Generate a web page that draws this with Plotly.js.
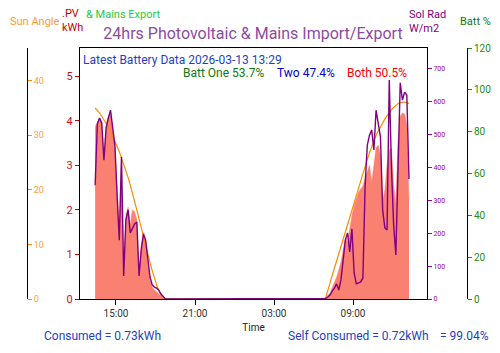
<!DOCTYPE html>
<html>
<head>
<meta charset="utf-8">
<script src="https://cdn.plot.ly/plotly-3.0.1.min.js"></script>
<style>html,body{margin:0;padding:0;background:#fff;}#chart{width:500px;height:353px;}</style>
</head>
<body>
<div id="chart"></div>
<script>
// Sampling: one reading every 10 minutes, starting at this time
const startTime = '2026-03-12T13:25:00';
const stepMinutes = 10;

// PV generation (kWh) – afternoon, night, morning
const pvKWh = [
  3.86,3.97,4.06,3.97,3.16,3.88,4.10,4.17,3.79,3.39,2.44,1.55,3.12,0.47,1.88,2.06,
  1.66,2.00,1.95,1.77,0.49,1.21,1.50,1.32,0.83,0.43,0.27,0.20,0.16,0.11,0.07,0.02,
  0,0,0,0,0,0,0,0,0,0,0,0,0,0,0,0,0,0,0,0,0,0,0,0,
  0,0,0,0,0,0,0,0,0,0,0,0,0,0,0,0,0,0,0,0,0,0,0,0,
  0,0,0,0,0,0,0,0,0,0,0,0,0,0,0,0,0,0,0,0,0,0,0,0,
  0,0.02,0.07,0.13,0.25,0.36,0.49,0.65,0.83,1.10,1.37,1.28,1.59,1.86,2.09,2.26,
  2.40,2.47,2.53,2.71,2.85,3.00,2.62,3.00,3.39,3.45,3.23,2.22,2.44,3.00,3.34,3.39,
  2.56,2.11,3.57,4.10,4.17,4.15,3.90,2.22
];

// Solar radiation (W/m2)
const solRad = [
  346,532,550,535,422,520,550,574,520,468,316,179,432,70,240,271,
  201,216,228,234,70,149,198,179,112,67,43,36,33,27,15,6,
  0,0,0,0,0,0,0,0,0,0,0,0,0,0,0,0,0,0,0,0,0,0,0,0,
  0,0,0,0,0,0,0,0,0,0,0,0,0,0,0,0,0,0,0,0,0,0,0,0,
  0,0,0,0,0,0,0,0,0,0,0,0,0,0,0,0,0,0,0,0,0,0,0,0,
  0,1.5,6,12,24,33,46,27,58,112,179,201,143,213,79,46,
  49,52,64,346,468,498,514,453,574,529,492,271,216,210,666,401,
  225,134,392,657,605,629,620,365
];

// Sun elevation angle (degrees)
const sunAngle = [
  35.0,34.6,34.1,33.5,32.9,32.2,31.5,30.7,29.9,29.0,28.0,27.0,25.9,24.8,23.6,22.3,
  20.9,19.5,17.9,16.3,14.7,13.0,11.4,9.8,8.2,6.7,5.2,3.8,2.6,1.5,0.6,0,
  0,0,0,0,0,0,0,0,0,0,0,0,0,0,0,0,0,0,0,0,0,0,0,0,
  0,0,0,0,0,0,0,0,0,0,0,0,0,0,0,0,0,0,0,0,0,0,0,0,
  0,0,0,0,0,0,0,0,0,0,0,0,0,0,0,0,0,0,0,0,0,0,0,0,
  0,0.2,1.4,2.9,4.3,5.6,7.0,8.2,9.4,10.7,12.0,13.4,14.8,16.2,17.6,19.0,
  20.4,21.8,23.1,24.4,25.6,26.8,28.0,29.0,30.0,30.8,31.6,32.3,33.0,33.6,34.2,34.7,
  35.1,35.5,35.8,36.0,36.1,36.1,36.0,35.8
];

// Text values
const chartTitle = '24hrs Photovoltaic & Mains Import/Export';
const latestText = 'Latest Battery Data 2026-03-13 13:29';
const battOne = 'Batt One 53.7%';
const battTwo = 'Two 47.4%';
const battBoth = 'Both 50.5%';
const consumedText = 'Consumed = 0.73kWh';
const selfConsumedText = 'Self Consumed = 0.72kWh';
const selfPctText = '= 99.04%';

function pad(n){return (n<10?'0':'')+n;}
const times = [];
{
  const t0 = new Date(startTime + 'Z').getTime();
  for (let i = 0; i < pvKWh.length; i++) {
    const d = new Date(t0 + i*stepMinutes*60000);
    times.push(d.getUTCFullYear()+'-'+pad(d.getUTCMonth()+1)+'-'+pad(d.getUTCDate())+' '+pad(d.getUTCHours())+':'+pad(d.getUTCMinutes()));
  }
}

const W = 500, H = 353;
const px = v => v / W;
const py = v => 1 - v / H;

const traces = [
  {x: times, y: pvKWh, type: 'scatter', mode: 'lines', yaxis: 'y',
   fill: 'tozeroy', fillcolor: '#fa8072', line: {color: '#fa8072', width: 0.5}, hoverinfo: 'skip'},
  {x: times, y: sunAngle, type: 'scatter', mode: 'lines', yaxis: 'y2',
   line: {color: '#ff8c00', width: 1.2}, hoverinfo: 'skip'},
  {x: times, y: solRad, type: 'scatter', mode: 'lines', yaxis: 'y3',
   line: {color: '#800080', width: 1.4}, hoverinfo: 'skip'},
  {x: [], y: [], type: 'scatter', mode: 'lines', yaxis: 'y4', hoverinfo: 'skip'}
];

const yDom = [(H-299)/H, (H-48)/H];

function ann(text, x, y, color, size, extra) {
  return Object.assign({text: text, x: px(x), y: py(y), xref: 'paper', yref: 'paper',
    xanchor: 'left', yanchor: 'middle', showarrow: false, align: 'left', borderpad: 0,
    font: {family: 'Roboto', size: size, color: color}}, extra || {});
}

const layout = {
  width: W, height: H,
  margin: {l: 0, r: 0, t: 0, b: 0},
  paper_bgcolor: '#fff', plot_bgcolor: '#fff',
  showlegend: false,
  font: {family: 'Roboto', size: 10, color: '#222'},
  title: {text: chartTitle, font: {family: 'Roboto', size: 16, color: '#8b4c9e'},
          x: px(253), xanchor: 'center', y: py(33), yanchor: 'middle'},
  xaxis: {
    domain: [px(80), px(427)], type: 'date',
    range: ['2026-03-12 12:16', '2026-03-13 14:37'],
    tickformat: '%H:%M', dtick: 6*3600000, tick0: '2026-03-12 03:00',
    ticks: 'outside', ticklen: 5, tickcolor: '#000',
    showline: true, linecolor: '#000', mirror: true, showgrid: false, zeroline: false,
    tickfont: {size: 10, color: '#333'},
    title: {text: 'Time', font: {size: 10, color: '#222'}, standoff: 5}
  },
  yaxis: {
    domain: yDom, range: [0, 5.63], side: 'left',
    ticks: 'outside', ticklen: 4, tickcolor: '#cc0000', dtick: 1,
    showline: true, linecolor: '#000', mirror: true, showgrid: false, zeroline: false,
    tickfont: {size: 11, color: '#cc1111'}
  },
  yaxis2: {
    overlaying: 'y', anchor: 'free', position: px(27), side: 'right',
    range: [-0.0005, 46], dtick: 10, tick0: 0,
    ticks: 'outside', ticklen: 4, tickcolor: '#ff8c00',
    showline: true, linecolor: '#000', showgrid: false, zeroline: false,
    tickfont: {size: 9, color: '#ffa040'}
  },
  yaxis3: {
    overlaying: 'y', anchor: 'x', side: 'right',
    range: [-0.005, 763], dtick: 100, tick0: 0,
    ticks: 'outside', ticklen: 4, tickcolor: '#990099',
    showline: false, showgrid: false, zeroline: false,
    tickfont: {size: 7, color: '#990099'}
  },
  yaxis4: {
    overlaying: 'y', anchor: 'free', position: px(467), side: 'right',
    range: [-0.001, 120], dtick: 20, tick0: 0,
    ticks: 'outside', ticklen: 4, tickcolor: '#228b22',
    showline: true, linecolor: '#000', showgrid: false, zeroline: false,
    tickfont: {size: 10, color: '#228b22'}
  },
  annotations: [
    ann('Sun Angle', 9, 21, '#ff9a2e', 11),
    ann('.PV<br>kWh', 61, 20, '#cc0000', 11),
    ann('& Mains Export', 85, 14, '#22cc44', 11),
    ann('Sol Rad<br>W/m2', 408, 21, '#800080', 11),
    ann('Batt %', 459, 21, '#117711', 11),
    ann(latestText, 82, 59.5, '#1f3fbf', 12),
    ann(battOne, 182, 72.5, '#117711', 12),
    ann(battTwo, 276, 72.5, '#0000cc', 12),
    ann(battBoth, 346, 72.5, '#ff0000', 12),
    ann(consumedText, 43, 336, '#1f3fbf', 12),
    ann(selfConsumedText, 287, 336, '#1f3fbf', 12),
    ann(selfPctText, 439, 336, '#1f3fbf', 12)
  ]
};

Plotly.newPlot('chart', traces, layout, {displayModeBar: false, staticPlot: true});
</script>
</body>
</html>
